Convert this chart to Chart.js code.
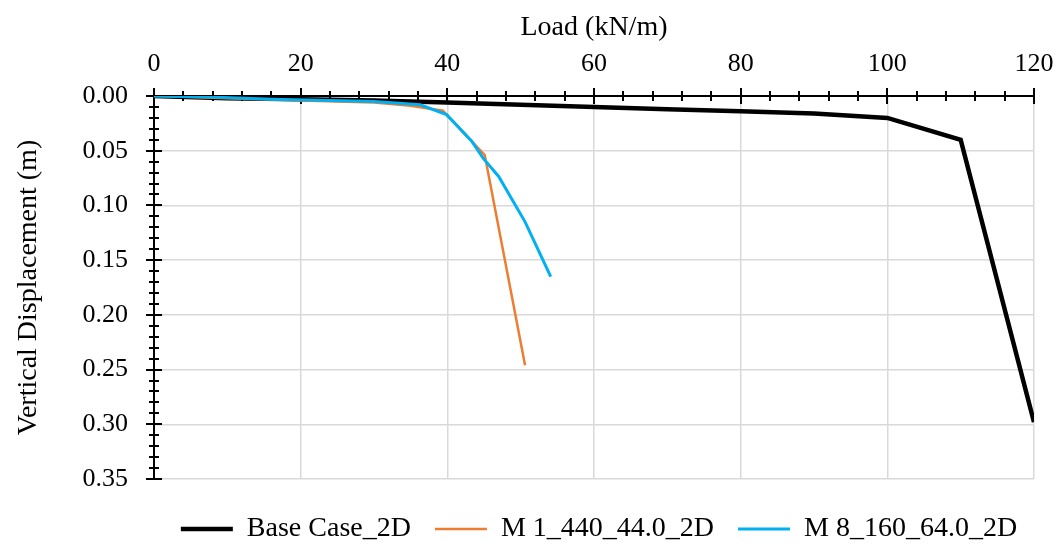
<!DOCTYPE html>
<html>
<head>
<meta charset="utf-8">
<script src="https://cdn.jsdelivr.net/npm/chart.js@4/dist/chart.umd.min.js"></script>
<style>
  html, body { margin: 0; padding: 0; background: #fff; }
  #wrap { width: 1061px; height: 547px; }
</style>
</head>
<body>
<div id="wrap"><canvas id="chart"></canvas></div>
<script>
// Base Case_2D
const baseLoad = [0, 10, 20, 30, 40, 50, 60, 70, 80, 90, 100, 110, 120];
const baseDisp = [0, 0.002, 0.003, 0.004, 0.006, 0.008, 0.010, 0.012, 0.014, 0.016, 0.020, 0.040, 0.298];

// M 1_440_44.0_2D
const m1Load = [0, 5, 10, 15, 20, 25, 30, 35, 39.4, 45.1, 50.6];
const m1Disp = [0, 0.001, 0.002, 0.003, 0.004, 0.005, 0.006, 0.009, 0.0135, 0.054, 0.246];

// M 8_160_64.0_2D
const m8Load = [0, 8, 16, 24, 30, 36.3, 39.9, 43.3, 44.9, 47.0, 50.6, 54.1];
const m8Disp = [0, 0.001, 0.003, 0.004, 0.005, 0.008, 0.017, 0.041, 0.057, 0.0735, 0.115, 0.165];

const seriesNames = ['Base Case_2D', 'M 1_440_44.0_2D', 'M 8_160_64.0_2D'];

function toPoints(xs, ys) {
    return xs.map((x, i) => ({ x: x, y: ys[i] }));
}

const serif = '"Liberation Serif", "Times New Roman", serif';
const font = { family: serif, size: 26 };
const titleFont = { family: serif, size: 28 };
const legendFont = { family: serif, size: 28 };

// petites graduations qui traversent les axes, comme dans Excel
const crossTicks = {
    id: 'crossTicks',
    beforeDatasetsDraw(chart) {
        const ctx = chart.ctx;
        const xs = chart.scales.x;
        const ys = chart.scales.y;
        const area = chart.chartArea;
        ctx.save();
        ctx.strokeStyle = '#000';
        ctx.lineWidth = 2;
        for (let v = 0; v <= 120; v += 4) {
            const px = Math.round(xs.getPixelForValue(v));
            const len = v % 20 === 0 ? 8 : 5;
            ctx.beginPath();
            ctx.moveTo(px, area.top - len);
            ctx.lineTo(px, area.top + len);
            ctx.stroke();
        }
        for (let i = 0; i <= 35; i++) {
            const py = Math.round(ys.getPixelForValue(i / 100));
            const len = i % 5 === 0 ? 8 : 5;
            ctx.beginPath();
            ctx.moveTo(area.left - len, py);
            ctx.lineTo(area.left + len, py);
            ctx.stroke();
        }
        ctx.restore();
    }
};

// décale la légende vers la droite et vers le bas (centrée sous la zone de tracé)
const legendShift = {
    id: 'legendShift',
    afterUpdate(chart) {
        const lg = chart.legend;
        if (!lg) return;
        lg.left += 76;
        lg.right += 76;
        lg.top += 12;
        lg.bottom += 12;
    }
};

new Chart(document.getElementById('chart'), {
    type: 'line',
    data: {
        datasets: [
            {
                label: seriesNames[0],
                data: toPoints(baseLoad, baseDisp),
                borderColor: '#000000',
                backgroundColor: '#000000',
                borderWidth: 4.5,
                pointRadius: 0,
                tension: 0,
                order: 3
            },
            {
                label: seriesNames[1],
                data: toPoints(m1Load, m1Disp),
                borderColor: '#ED7D31',
                backgroundColor: '#ED7D31',
                borderWidth: 2.5,
                pointRadius: 0,
                tension: 0,
                order: 2
            },
            {
                label: seriesNames[2],
                data: toPoints(m8Load, m8Disp),
                borderColor: '#00B0F0',
                backgroundColor: '#00B0F0',
                borderWidth: 3,
                pointRadius: 0,
                tension: 0,
                order: 1
            }
        ]
    },
    options: {
        responsive: true,
        maintainAspectRatio: false,
        animation: false,
        layout: { padding: { left: 12, top: 8, right: 27, bottom: 6 } },
        plugins: {
            tooltip: { enabled: false },
            legend: {
                position: 'bottom',
                labels: {
                    font: legendFont,
                    color: '#000',
                    usePointStyle: true,
                    pointStyle: 'line',
                    pointStyleWidth: 52,
                    padding: 24,
                    sort: (a, b) => a.datasetIndex - b.datasetIndex
                }
            }
        },
        scales: {
            x: {
                type: 'linear',
                position: 'top',
                min: 0,
                max: 120,
                ticks: { stepSize: 20, font: font, color: '#000', padding: 16 },
                grid: { color: '#d9d9d9', lineWidth: 1.5, drawTicks: false },
                border: { color: '#000', width: 2 },
                title: { display: true, text: 'Load (kN/m)', font: titleFont, color: '#000', padding: { top: 3, bottom: 0 } },
                afterFit: s => { s.height = 88; s.paddingLeft = 0; s.paddingRight = 0; }
            },
            y: {
                type: 'linear',
                reverse: true,
                min: 0,
                max: 0.35,
                ticks: {
                    stepSize: 0.05,
                    font: font,
                    color: '#000',
                    padding: 26,
                    callback: v => Number(v).toFixed(2)
                },
                grid: { color: '#d9d9d9', lineWidth: 1.5, drawTicks: false },
                border: { color: '#000', width: 2 },
                title: { display: true, text: 'Vertical Displacement (m)', font: titleFont, color: '#000', padding: 0 },
                afterFit: s => { s.width = 142; s.paddingTop = 0; s.paddingBottom = 0; }
            }
        }
    },
    plugins: [crossTicks, legendShift]
});
</script>
</body>
</html>
